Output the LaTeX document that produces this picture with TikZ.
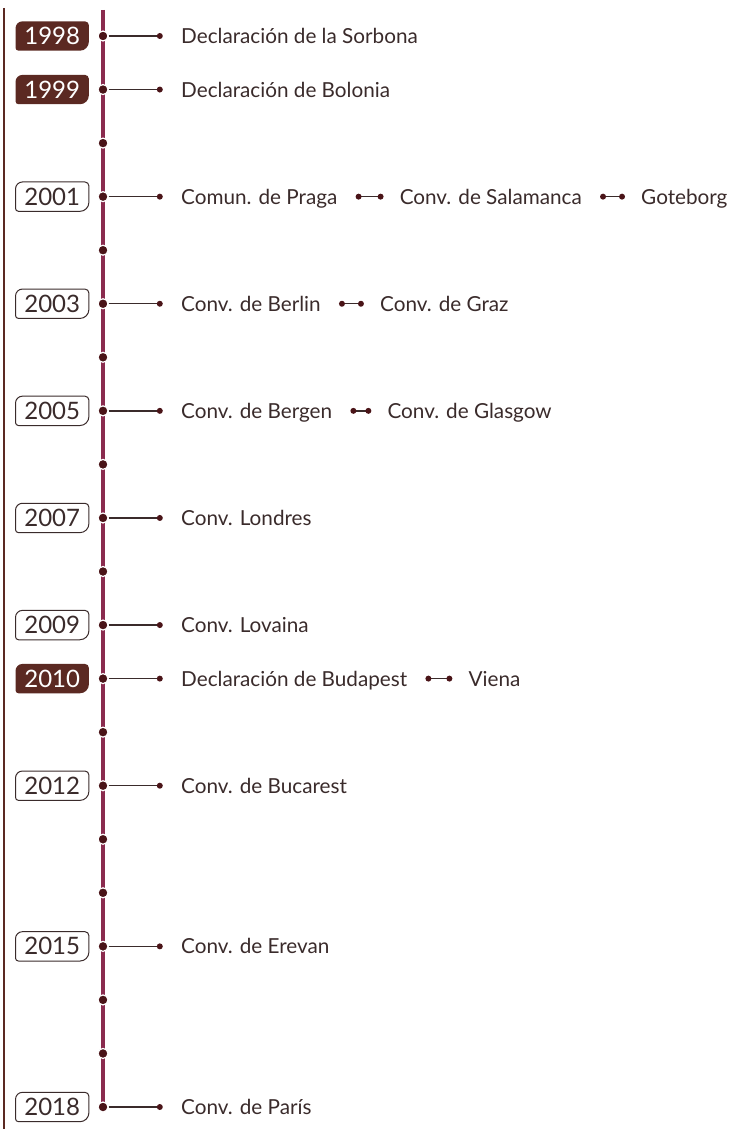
\documentclass[tikz,border=0pt]{standalone}
\usepackage{fontspec}
\setmainfont{Lato}
\usetikzlibrary{positioning,backgrounds}
\definecolor{wine}{HTML}{8A2B4E}
\definecolor{darkbrown}{HTML}{5B2922}
\definecolor{ink}{HTML}{3A2B2B}
\definecolor{dotbrown}{HTML}{4A1418}
\tikzset{%
	event/.style    = {font=\fontsize{20.7}{24}\selectfont, text=ink, inner sep=0pt, text height=15pt, text depth=0pt},
	year/.style     = {font=\fontsize{24}{26}\selectfont, text=ink, minimum width=73pt, minimum height=29pt, inner sep=0pt},
	yearfill/.style = {year, text=white},
	tick/.style     = {circle, fill=dotbrown, draw=white, line width=1.2pt, inner sep=0pt, minimum size=10pt},
	tip/.style      = {circle, fill=dotbrown, inner sep=0pt, minimum size=6pt},
	link/.style     = {line width=1.4pt, draw=ink},
	boxline/.style  = {draw=ink, line width=1pt},
}

\begin{document}
\begin{tikzpicture}[x=1pt,y=-1pt]
	\useasboundingbox (0,0) rectangle (731,1129);
	\draw[darkbrown, line width=1.8pt] (4,8) -- (4,1129);  % left rule
	\draw[wine, line width=4pt] (103,10) -- (103,1107);   % time axis
	
	\foreach \yr in {1998,...,2018}
		\node[tick] (d\yr) at (103,{36+(\yr-1998)*53.55}) {};
	
	% years
	\node[yearfill, left=8.5pt of d1998] (y1998) {1998};
	\node[yearfill, left=8.5pt of d1999] (y1999) {1999};
	\node[year, left=8.5pt of d2001] (y2001) {2001};
	\node[year, left=8.5pt of d2003] (y2003) {2003};
	\node[year, left=8.5pt of d2005] (y2005) {2005};
	\node[year, left=8.5pt of d2007] (y2007) {2007};
	\node[year, left=8.5pt of d2009] (y2009) {2009};
	\node[yearfill, left=8.5pt of d2010] (y2010) {2010};
	\node[year, left=8.5pt of d2012] (y2012) {2012};
	\node[year, left=8.5pt of d2015] (y2015) {2015};
	\node[year, left=8.5pt of d2018] (y2018) {2018};
	
	\begin{scope}[on background layer]
		\foreach \n in {y1998,y1999,y2010}
			\fill[darkbrown] (\n.west) [rounded corners=7pt] |- (\n.north) [rounded corners=4pt] -| (\n.east) [rounded corners=9pt] |- (\n.south) [rounded corners=3pt] -| (\n.west) -- cycle;
		\foreach \n in {y2001,y2003,y2005,y2007,y2009,y2012,y2015,y2018}
			\draw[boxline] (\n.west) [rounded corners=7pt] |- (\n.north) [rounded corners=4pt] -| (\n.east) [rounded corners=9pt] |- (\n.south) [rounded corners=3pt] -| (\n.west) -- cycle;
	\end{scope}
	
	% branches
	\foreach \yr in {1998,1999,2001,2003,2005,2007,2009,2010,2012,2015,2018} {
		\node[tip, right=48pt of d\yr] (e\yr) {};
		\draw[link] (d\yr) -- (e\yr);
	}
	
	\node[event, right=18pt of e1998] (t1998) {Declaración de la Sorbona};
	\node[event, right=18pt of e1999] (t1999) {Declaración de Bolonia};
	\node[event, right=18pt of e2001] (t2001) {Comun. de Praga};
	\node[event, right=62pt of t2001] (t2001b) {Conv. de Salamanca};
	\node[event, right=59pt of t2001b] (t2001c) {Goteborg};
	\node[event, right=18pt of e2003] (t2003) {Conv. de Berlin};
	\node[event, right=59pt of t2003] (t2003b) {Conv. de Graz};
	\node[event, right=18pt of e2005] (t2005) {Conv. de Bergen};
	\node[event, right=55pt of t2005] (t2005b) {Conv. de Glasgow};
	\node[event, right=18pt of e2007] (t2007) {Conv. Londres};
	\node[event, right=18pt of e2009] (t2009) {Conv. Lovaina};
	\node[event, right=18pt of e2010] (t2010) {Declaración de Budapest};
	\node[event, right=61pt of t2010] (t2010b) {Viena};
	\node[event, right=18pt of e2012] (t2012) {Conv. de Bucarest};
	\node[event, right=18pt of e2015] (t2015) {Conv. de Erevan};
	\node[event, right=18pt of e2018] (t2018) {Conv. de París};
	
	% short links between events
	\foreach \a/\b in {t2001/t2001b,t2001b/t2001c,t2003/t2003b,t2005/t2005b,t2010/t2010b}
		\draw[link] ([xshift=21pt]\a.east) node[tip] {} -- ([xshift=-19pt]\b.west) node[tip] {};
\end{tikzpicture}
\end{document}
